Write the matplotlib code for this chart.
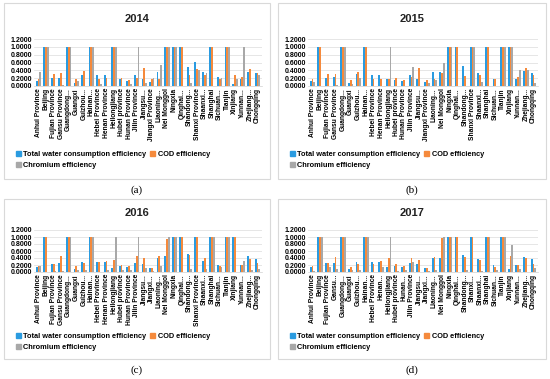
import numpy as np
import matplotlib
matplotlib.use("Agg")
import matplotlib.pyplot as plt
from matplotlib.patches import Rectangle, Patch

plt.rcParams['font.family'] = ['Liberation Sans Narrow', 'Liberation Sans', 'DejaVu Sans']

years = ["2014", "2015", "2016", "2017"]
captions = ["(a)", "(b)", "(c)", "(d)"]
series_names = ["Total water consumption efficiency", "COD efficiency", "Chromium efficiency"]
colors = ["#2a9be0", "#f58a3c", "#a8a8a8"]

labels_2014 = ["Anhui Province", "Beijing", "Fujian Province", "Gansu Province", "Guangdong...",
               "Guangxi", "Guizhou...", "Hainan...", "Hebei Province", "Henan Province",
               "Heilongjiang", "Hubei province", "Hunan Province", "Jilin Province", "Jiangsu...",
               "Jiangxi Province", "Liaoning...", "Nei Monggol", "Ningxia", "Qinghai...",
               "Shandong...", "Shanxi Province", "Shaanxi...", "Shanghai", "Sichuan...",
               "Tianjin", "Xinjiang", "Yunnan...", "Zhejiang...", "Chongqing"]
labels_2015 = list(labels_2014)
labels_2016 = list(labels_2014)
labels_2016[15] = "Jiangxi..."
labels_2017 = list(labels_2016)
labels_2017[3] = "Gansu..."
labels_2017[9] = "Henan..."
labels_2017[12] = "Hunan..."
labels_2017[21] = "Shanxi..."

# total water consumption efficiency
water_2014 = [0.13, 1, 0.20, 0.20, 1, 0.08, 0.28, 1, 0.27, 0.29, 1, 0.17, 0.14, 0.27, 0.19,
              0.11, 0.35, 1, 1, 1, 0.48, 0.62, 0.35, 1, 0.22, 1, 0.05, 0.18, 0.35, 0.34]
water_2015 = [0.13, 1, 0.20, 0.22, 1, 0.08, 0.30, 1, 0.28, 0.28, 0.17, 0.16, 0.14, 0.27, 0.19,
              0.10, 0.36, 0.37, 1, 1, 0.50, 1, 0.33, 1, 0.19, 1, 1, 0.17, 0.38, 0.34]
water_2016 = [0.15, 1, 0.24, 0.25, 1, 0.10, 0.30, 1, 0.29, 0.28, 0.12, 0.18, 0.15, 0.26, 0.23,
              0.12, 0.40, 0.47, 1, 1, 0.52, 1, 0.32, 1, 0.20, 1, 1, 0.20, 0.45, 0.38]
water_2017 = [0.13, 1, 0.25, 0.25, 1, 0.10, 0.28, 1, 0.28, 0.28, 0.13, 0.18, 0.14, 0.27, 0.22,
              0.12, 0.40, 0.39, 1, 1, 0.50, 1, 0.37, 1, 0.20, 1, 0.08, 0.20, 0.43, 0.38]

# COD efficiency
cod_2014 = [0.18, 1, 0.30, 0.33, 1, 0.17, 0.38, 1, 0.17, 0.20, 1, 0.20, 0.16, 0.20, 0.47,
            0.17, 0.19, 1, 1, 1, 0.27, 0.44, 0.27, 1, 0.17, 1, 0.27, 0.22, 0.44, 0.32]
cod_2015 = [0.17, 1, 0.30, 0.30, 1, 0.16, 0.37, 1, 0.19, 0.19, 0.17, 0.21, 0.15, 0.22, 0.47,
            0.15, 0.19, 0.33, 1, 1, 0.25, 1, 0.27, 1, 0.19, 1, 1, 0.22, 0.45, 0.29]
cod_2016 = [0.18, 1, 0.24, 0.45, 1, 0.16, 0.26, 1, 0.29, 0.31, 0.35, 0.21, 0.17, 0.47, 0.40,
            0.12, 0.47, 0.94, 1, 1, 0.48, 1, 0.40, 1, 0.18, 1, 1, 0.20, 0.37, 0.26]
cod_2017 = [0.17, 1, 0.25, 0.44, 1, 0.13, 0.24, 1, 0.23, 0.31, 0.41, 0.22, 0.17, 0.41, 0.35,
            0.12, 0.43, 0.97, 1, 1, 0.44, 1, 0.34, 1, 0.15, 1, 0.46, 0.20, 0.40, 0.23]

# chromium efficiency
chrom_2014 = [0.35, 1, 0.00, 0.03, 1, 0.14, 0.00, 1, 0.05, 0.00, 1, 0.00, 0.05, 1.00, 0.08,
              0.20, 0.53, 1, 1, 0.00, 0.08, 0.40, 0.32, 0.00, 0.20, 1, 0.18, 1.00, 0.00, 0.27]
chrom_2015 = [0.10, 0.00, 0.00, 0.03, 1, 0.06, 0.20, 0.00, 0.00, 0.00, 1.00, 0.00, 0.00, 0.48, 0.00,
              0.08, 0.15, 0.58, 1, 0.00, 0.00, 1, 0.10, 0.00, 0.00, 1, 1, 0.42, 0.40, 0.08]
chrom_2016 = [0.18, 0.00, 0.03, 0.03, 1, 0.07, 0.05, 1, 0.00, 0.07, 1.00, 0.05, 0.05, 1.00, 0.12,
              0.02, 0.18, 1.00, 1, 0.00, 0.10, 0.00, 0.10, 1, 0.15, 1, 0.00, 0.32, 0.05, 0.10]
chrom_2017 = [0.03, 1, 0.15, 0.08, 1, 0.07, 0.05, 1, 0.00, 0.13, 1.00, 0.03, 0.07, 0.30, 0.00,
              0.02, 0.05, 1.00, 1, 0.00, 0.05, 0.00, 0.02, 1, 0.05, 1, 0.78, 0.08, 0.00, 0.12]

all_labels = [labels_2014, labels_2015, labels_2016, labels_2017]
all_data = [(water_2014, cod_2014, chrom_2014), (water_2015, cod_2015, chrom_2015),
            (water_2016, cod_2016, chrom_2016), (water_2017, cod_2017, chrom_2017)]

W, H = 550, 379
fig = plt.figure(figsize=(W / 100, H / 100), dpi=100)

# pixel geometry per row / column of panels
rows = [dict(box=(3, 179), title=19, ax=(39, 86), leg=160, cap=190),
        dict(box=(199, 359), title=213, ax=(230, 272), leg=342, cap=370)]
cols = [dict(box=(4, 270), ax=(34, 262), cx=137),
        dict(box=(278, 546), ax=(308, 538), cx=412)]

def fx(px):
    return px / W

def fy(py):
    return 1 - py / H

for k in range(4):
    r = rows[k // 2]
    c = cols[k % 2]
    # panel frame
    fig.add_artist(Rectangle((fx(c['box'][0]), fy(r['box'][1])),
                             fx(c['box'][1] - c['box'][0]), (r['box'][1] - r['box'][0]) / H,
                             transform=fig.transFigure, fill=False, edgecolor='#d9d9d9', lw=0.8))
    fig.text(fx(c['cx']), fy(r['title']), years[k], ha='center', va='center',
             fontsize=8, fontweight='bold', color='#222222')
    fig.text(fx(c['cx']), fy(r['cap']), captions[k], ha='center', va='center',
             fontsize=8, family='Liberation Serif')

    ax = fig.add_axes([fx(c['ax'][0]), fy(r['ax'][1]), fx(c['ax'][1] - c['ax'][0]),
                       (r['ax'][1] - r['ax'][0]) / H])
    x = np.arange(len(all_labels[k]))
    wbar = 0.24
    for s in range(3):
        ax.bar(x + (s - 1) * wbar, all_data[k][s], width=wbar, color=colors[s], linewidth=0)
    ax.set_ylim(0, 1.2)
    ax.set_xlim(-0.6, len(x) - 0.4)
    ax.set_yticks(np.arange(0, 1.21, 0.2))
    ax.set_yticklabels(["%.4f" % v for v in np.arange(0, 1.21, 0.2)], fontsize=5,
                       fontweight='bold')
    ax.set_xticks(x)
    ax.set_xticklabels(all_labels[k], rotation=90, fontsize=4.8, fontweight='bold')
    ax.tick_params(length=0, pad=1.5)
    ax.grid(axis='y', color='#dcdcdc', lw=0.5)
    ax.set_axisbelow(True)
    for sp in ['top', 'right', 'left']:
        ax.spines[sp].set_visible(False)
    ax.spines['bottom'].set_color('#d0d0d0')
    ax.spines['bottom'].set_linewidth(0.5)

    handles = [Patch(color=colors[0], label=series_names[0]),
               Patch(color=colors[2], label=series_names[2]),
               Patch(color=colors[1], label=series_names[1])]
    fig.legend(handles=handles, loc='center left', ncol=2,
               bbox_to_anchor=(fx(c['box'][0] + 12), fy(r['leg'])),
               frameon=False, prop={'weight': 'bold', 'size': 5.3},
               handlelength=0.7, handleheight=0.7, handletextpad=0.3,
               columnspacing=0.5, labelspacing=0.6, borderpad=0, borderaxespad=0)

fig.savefig("out.png", dpi=100)
